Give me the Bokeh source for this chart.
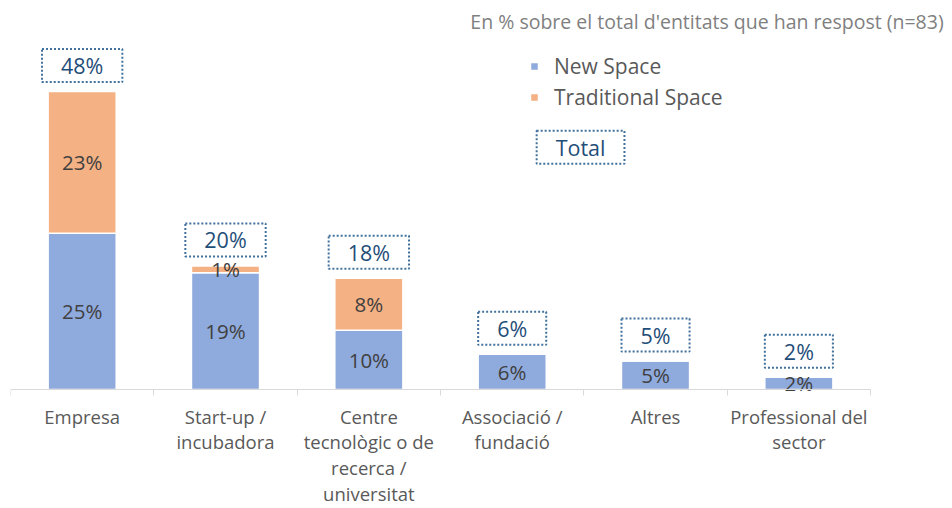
from bokeh.plotting import figure
from bokeh.models import (Range1d, FixedTicker, Label, ColumnDataSource, Legend, LegendItem)
from bokeh.core.properties import value
from bokeh.embed import file_html
from bokeh.resources import INLINE

categories = ["Empresa", "Start-up /\nincubadora", "Centre\ntecnològic o de\nrecerca /\nuniversitat",
              "Associació /\nfundació", "Altres", "Professional del\nsector"]
new_space = [25.3, 18.9, 9.6, 5.7, 4.6, 2.0]
traditional_space = [22.9, 1.1, 8.4, 0.0, 0.0, 0.0]
series_names = ["New Space", "Traditional Space"]
title_text = "En % sobre el total d'entitats que han respost (n=83)"
total_name = "Total"

FONT = value("Open Sans")
BLUE = "#8FAADC"
ORANGE = "#F4B183"
TOTAL_COL = "#1F4E79"
BOX_COL = "#41719C"

n = len(categories)
xs = list(range(n))
totals = [a + b for a, b in zip(new_space, traditional_space)]

p = figure(width=944, height=506, output_backend="svg", toolbar_location=None,
           x_range=Range1d(-0.5, 6.016), y_range=Range1d(-18.93, 61),
           min_border_left=10, min_border_right=0, min_border_top=12, min_border_bottom=0)
p.outline_line_color = None
p.grid.visible = False
p.yaxis.visible = False

src = ColumnDataSource(dict(x=xs, new=new_space, trad=traditional_space))
rs = p.vbar_stack(["new", "trad"], x="x", width=0.475, source=src,
                  color=[BLUE, ORANGE], line_color="white", line_width=1.5)

ax = p.xaxis[0]
ax.fixed_location = 0
ax.bounds = (-0.5, n - 0.5)
ax.ticker = FixedTicker(ticks=xs, minor_ticks=[i - 0.5 for i in range(n + 1)])
ax.major_label_overrides = {i: c for i, c in zip(xs, categories)}
ax.major_tick_line_color = None
ax.minor_tick_in = 0
ax.minor_tick_out = 6
ax.minor_tick_line_color = "#D9D9D9"
ax.axis_line_color = "#D9D9D9"
ax.major_label_standoff = 8
ax.major_label_text_font = "Open Sans"
ax.major_label_text_font_size = "18.5px"
ax.major_label_text_color = "#595959"
ax.major_label_text_line_height = 1.03

# segment labels
lx, ly, lt = [], [], []
for i in xs:
    if new_space[i] > 0:
        lx.append(i); ly.append(new_space[i] / 2); lt.append(f"{round(new_space[i])}%")
    if traditional_space[i] > 0:
        lx.append(i); ly.append(new_space[i] + traditional_space[i] / 2)
        lt.append(f"{round(traditional_space[i])}%")
p.text(x=lx, y=ly, text=lt, text_font=FONT, text_font_size="20.5px", text_color="#404040",
       text_align="center", text_baseline="middle")

box_style = dict(text_font="Open Sans", text_font_size="21.5px", text_color=TOTAL_COL,
                 text_align="center", text_baseline="middle",
                 border_line_color=BOX_COL, border_line_width=2, border_line_dash="2 2",
                 padding=dict(left=19, right=19, top=2, bottom=2))
for i in xs:
    p.add_layout(Label(x=i, y=totals[i], y_offset=26, text=f"{round(totals[i])}%", **box_style))

p.add_layout(Label(x=3.477, y=39.2, text=total_name, **box_style))

p.add_layout(Label(x=6.01, y=59.5, text=title_text, text_font="Open Sans", text_font_size="19.5px",
                   text_color="#7F7F7F", text_align="right", text_baseline="middle"))

legend = Legend(items=[LegendItem(label=series_names[0], renderers=[rs[0]]),
                       LegendItem(label=series_names[1], renderers=[rs[1]])],
                location=(519, 395), glyph_width=10, glyph_height=10, label_standoff=15,
                label_height=20, spacing=3, padding=0, margin=0,
                border_line_color=None, background_fill_alpha=0,
                label_text_font="Open Sans", label_text_font_size="21px", label_text_color="#595959")
p.add_layout(legend)

open("out.html", "w").write(file_html(p, INLINE))
